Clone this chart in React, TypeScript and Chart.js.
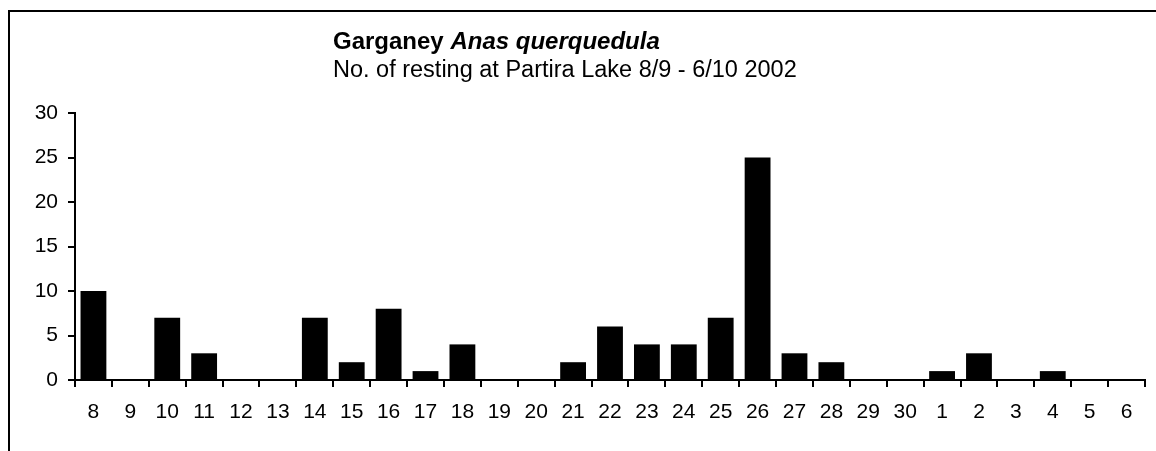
import React, { useEffect, useRef } from "react";
import { Chart, registerables } from "chart.js";

Chart.register(...registerables);

const categories = ["8","9","10","11","12","13","14","15","16","17","18","19","20","21","22","23","24","25","26","27","28","29","30","1","2","3","4","5","6"];
const counts = [10,0,7,3,0,0,7,2,8,1,4,0,0,2,6,4,4,7,25,3,2,0,0,1,3,0,1,0,0];
const yTicks = [0,5,10,15,20,25,30];
const titleMain = "Garganey ";
const titleItalic = "Anas querquedula";
const subtitle = "No. of resting at Partira Lake 8/9 - 6/10 2002";

const FONT = "Arial, 'Liberation Sans', sans-serif";

const framePlugin = {
  id: "frameAndTitle",
  afterDraw(chart: any) {
    const ctx = chart.ctx;
    ctx.save();
    ctx.strokeStyle = "#000";
    ctx.lineWidth = 2;
    ctx.beginPath();
    ctx.moveTo(9, 451);
    ctx.lineTo(9, 11);
    ctx.lineTo(1156, 11);
    ctx.stroke();
    ctx.fillStyle = "#000";
    ctx.textBaseline = "alphabetic";
    ctx.textAlign = "left";
    ctx.font = `bold 24px ${FONT}`;
    ctx.fillText(titleMain, 333, 49);
    const w = ctx.measureText(titleMain).width;
    ctx.font = `italic bold 24px ${FONT}`;
    ctx.fillText(titleItalic, 333 + w, 49);
    ctx.font = `23.5px ${FONT}`;
    ctx.fillText(subtitle, 333, 77);
    ctx.restore();
  },
};

export default function App() {
  const ref = useRef<HTMLCanvasElement>(null);
  useEffect(() => {
    if (!ref.current) return;
    const chart = new Chart(ref.current, {
      type: "bar",
      data: {
        labels: categories,
        datasets: [
          {
            data: counts,
            backgroundColor: "#000",
            borderWidth: 0,
            barPercentage: 0.7,
            categoryPercentage: 1,
          },
        ],
      },
      options: {
        animation: false,
        responsive: false,
        maintainAspectRatio: false,
        layout: { padding: { top: 113, right: 11, left: 0, bottom: 0 } },
        plugins: { legend: { display: false }, title: { display: false }, tooltip: { enabled: false } },
        scales: {
          x: {
            afterFit: (s: any) => { s.height = 71; },
            grid: { display: true, drawOnChartArea: false, drawTicks: true, tickLength: 7, color: "#000", lineWidth: 2, offset: true },
            border: { display: true, color: "#000", width: 2 },
            ticks: { color: "#000", font: { family: FONT, size: 21 }, padding: 13, maxRotation: 0, autoSkip: false },
          },
          y: {
            min: 0,
            max: 30,
            afterFit: (s: any) => { s.width = 75; },
            afterBuildTicks: (s: any) => { s.ticks = yTicks.map((v) => ({ value: v })); },
            grid: { display: true, drawOnChartArea: false, drawTicks: true, tickLength: 7, color: "#000", lineWidth: 2 },
            border: { display: true, color: "#000", width: 2 },
            ticks: { color: "#000", font: { family: FONT, size: 21 }, padding: 10 },
          },
        },
      },
      plugins: [framePlugin],
    });
    return () => chart.destroy();
  }, []);
  return (
    <div style={{ position: "fixed", left: 0, top: 0, width: 1156, height: 451, background: "#fff" }}>
      <canvas ref={ref} width={1156} height={451} style={{ width: 1156, height: 451 }} />
    </div>
  );
}
